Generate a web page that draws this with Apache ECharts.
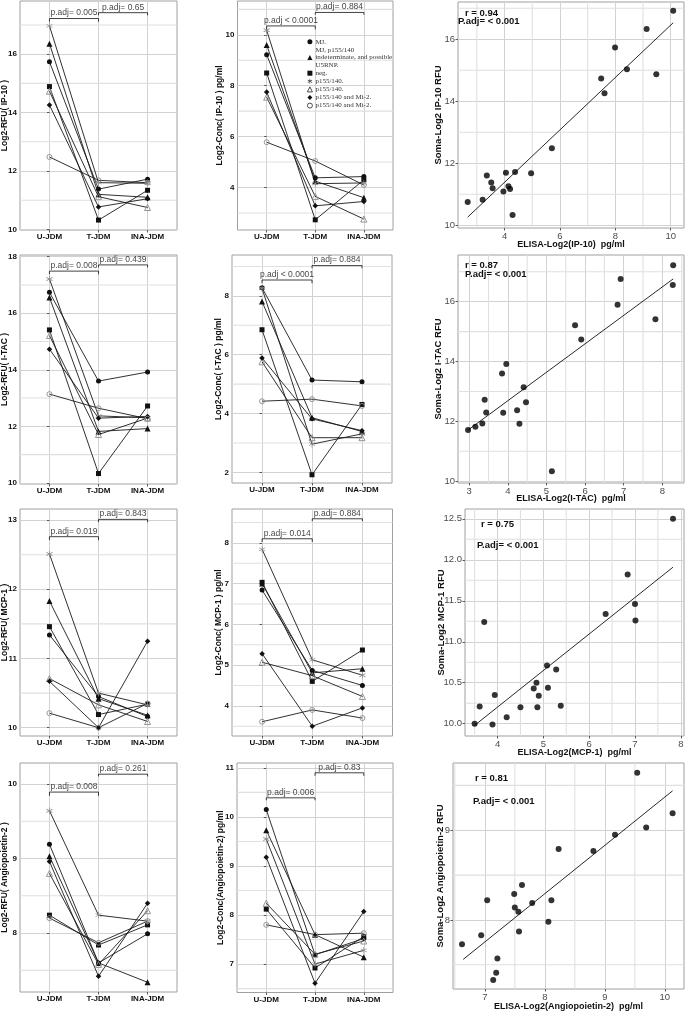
<!DOCTYPE html>
<html>
<head>
<meta charset="utf-8">
<script src="https://cdn.jsdelivr.net/npm/echarts@6.0.0/dist/echarts.min.js"></script>
<style>
html,body{margin:0;padding:0;background:#fff;}
#chart{width:685px;height:1013px;}
</style>
</head>
<body>
<div id="chart"></div>
<script>
// ================= DATA =================
const groups = ['U-JDM', 'T-JDM', 'INA-JDM'];
const subjects = ['MJ.', 'MJ, p155/140\nindeterminate, and possible\nU5RNP.', 'neg.', 'p155/140.', 'p155/140. ', 'p155/140 and Mi-2.', 'p155/140 and Mi-2. '];

// paired values, one row per subject: [U-JDM, T-JDM, INA-JDM]
const ip10RFU  = [[15.74,11.38,11.72],[16.36,11.20,11.10],[14.89,10.32,11.34],[16.97,11.60,11.58],[14.73,11.12,10.75],[14.26,10.77,11.05],[12.48,11.68,11.60]];
const ip10Conc = [[9.22,4.38,4.43],[9.60,4.25,3.60],[8.50,2.73,4.30],[10.18,4.15,4.18],[7.55,3.65,2.76],[7.75,3.28,3.45],[5.78,5.04,4.10]];
const itacRFU  = [[16.74,13.60,13.92],[16.56,11.82,11.92],[15.41,10.33,12.72],[17.21,12.37,12.30],[15.21,11.71,12.29],[14.73,12.29,12.35],[13.14,12.64,12.27]];
const itacConc = [[8.28,5.14,5.08],[7.81,3.86,3.39],[6.85,1.92,4.31],[8.26,2.96,3.31],[5.76,3.18,3.18],[5.89,3.82,3.42],[4.42,4.49,4.26]];
const mcp1RFU  = [[11.34,10.45,10.16],[11.83,10.42,10.18],[11.46,10.19,10.34],[12.51,10.50,10.33],[10.71,10.33,10.09],[10.67,10.00,11.25],[10.21,10.00,10.35]];
const mcp1Conc = [[6.84,4.87,4.50],[7.00,4.81,4.91],[7.03,4.60,5.37],[7.84,5.13,4.75],[5.07,4.74,4.23],[5.28,3.50,3.95],[3.61,3.90,3.70]];
const ang2RFU  = [[9.19,7.60,7.99],[9.03,7.60,7.34],[8.24,7.84,8.11],[9.64,8.24,8.16],[8.80,7.58,8.30],[8.96,7.42,8.40],[8.20,7.87,8.16]];
const ang2Conc = [[10.15,7.19,7.52],[9.73,7.60,7.14],[8.12,6.92,7.56],[9.55,7.00,7.28],[8.24,7.20,7.47],[9.18,6.61,8.07],[7.80,7.60,7.63]];

// p-value labels and bracket heights [bar level, tip level]
const ip10RFU_p  = ['p.adj= 0.005', 'p.adj= 0.65'];     const ip10RFU_br  = [[17.22,17.11],[17.42,17.33]];
const ip10Conc_p = ['p.adj < 0.0001', 'p.adj= 0.884'];  const ip10Conc_br = [[10.35,10.22],[10.88,10.79]];
const itacRFU_p  = ['p.adj= 0.008', 'p.adj= 0.439'];    const itacRFU_br  = [[17.49,17.38],[17.71,17.62]];
const itacConc_p = ['p.adj < 0.0001', 'p.adj= 0.884'];  const itacConc_br = [[8.54,8.43],[9.03,8.94]];
const mcp1RFU_p  = ['p.adj= 0.019', 'p.adj= 0.843'];    const mcp1RFU_br  = [[12.76,12.71],[13.01,12.97]];
const mcp1Conc_p = ['p.adj= 0.014', 'p.adj= 0.884'];    const mcp1Conc_br = [[8.10,8.02],[8.59,8.53]];
const ang2RFU_p  = ['p.adj= 0.008', 'p.adj= 0.261'];    const ang2RFU_br  = [[9.89,9.84],[10.13,10.10]];
const ang2Conc_p = ['p.adj= 0.006', 'p.adj= 0.83'];     const ang2Conc_br = [[10.39,10.34],[10.90,10.84]];

// scatter (ELISA x, Soma y)
const ip10X = [10.09,9.13,7.99,8.42,9.48,7.49,7.61,5.71,4.38,4.96,4.05,3.36,3.52,3.57,4.14,4.20,3.96,3.21,2.67,4.29];
const ip10Y = [16.92,16.33,15.73,15.03,14.87,14.73,14.26,12.48,11.72,11.68,11.69,11.60,11.38,11.19,11.26,11.17,11.09,10.82,10.75,10.33];
const itacX = [8.28,8.27,6.92,6.84,7.82,5.74,5.90,3.96,3.85,4.41,3.40,4.47,4.24,3.44,3.88,4.30,3.34,3.16,2.97,5.14];
const itacY = [17.22,16.56,16.76,15.90,15.41,15.21,14.74,13.92,13.60,13.14,12.72,12.64,12.37,12.30,12.29,11.92,11.93,11.82,11.71,10.33];
const mcp1X = [7.83,6.84,7.00,7.01,6.36,3.71,5.08,5.28,4.85,4.79,5.10,4.90,3.94,3.61,5.38,4.87,4.50,4.20,3.50,3.89];
const mcp1Y = [12.50,11.82,11.46,11.26,11.34,11.24,10.71,10.66,10.50,10.43,10.44,10.34,10.35,10.21,10.22,10.20,10.20,10.08,10.00,9.99];
const ang2X = [9.54,10.13,9.69,9.17,8.23,8.81,7.62,7.49,7.04,7.79,8.11,7.50,7.56,8.06,7.57,6.94,6.62,7.21,7.19,7.14];
const ang2Y = [9.64,9.19,9.03,8.95,8.79,8.77,8.39,8.29,8.22,8.19,8.22,8.14,8.09,7.98,7.87,7.83,7.73,7.57,7.41,7.33];
// fitted line end points
const ip10FitX = [2.67,10.09]; const ip10FitY = [10.26,16.53];
const itacFitX = [2.97,8.28];  const itacFitY = [11.71,16.76];
const mcp1FitX = [3.50,7.83];  const mcp1FitY = [9.98,11.91];
const ang2FitX = [6.64,10.13]; const ang2FitY = [7.56,9.44];
const ip10Stat = ['r = 0.94', 'P.adj= < 0.001'];
const itacStat = ['r = 0.87', 'P.adj= < 0.001'];
const mcp1Stat = ['r = 0.75', 'P.adj= < 0.001'];
const ang2Stat = ['r = 0.81', 'P.adj= < 0.001'];

// tick values
const ip10RFU_t = [10,12,14,16];    const ip10RFU_m = [11,13,15,17];
const ip10Conc_t = [4,6,8,10];      const ip10Conc_m = [3,5,7,9,11];
const itacRFU_t = [10,12,14,16,18]; const itacRFU_m = [11,13,15,17];
const itacConc_t = [2,4,6,8];       const itacConc_m = [3,5,7,9];
const mcp1RFU_t = [10,11,12,13];    const mcp1RFU_m = [10.5,11.5,12.5];
const mcp1Conc_t = [4,5,6,7,8];     const mcp1Conc_m = [3.5,4.5,5.5,6.5,7.5,8.5];
const ang2RFU_t = [8,9,10];         const ang2RFU_m = [7.5,8.5,9.5];
const ang2Conc_t = [7,8,9,10,11];   const ang2Conc_m = [6.5,7.5,8.5,9.5,10.5];
const s1X_t = [4,6,8,10]; const s1X_m = [3,5,7,9]; const s1Y_t = [10,12,14,16]; const s1Y_m = [11,13,15,17];
const s2X_t = [3,4,5,6,7,8]; const s2X_m = [3.5,4.5,5.5,6.5,7.5,8.5]; const s2Y_t = [10,12,14,16]; const s2Y_m = [11,13,15,17];
const s3X_t = [4,5,6,7,8]; const s3X_m = [3.5,4.5,5.5,6.5,7.5]; const s3Y_t = [10,10.5,11,11.5,12,12.5]; const s3Y_m = [10.25,10.75,11.25,11.75,12.25];
const s4X_t = [7,8,9,10]; const s4X_m = [6.5,7.5,8.5,9.5]; const s4Y_t = [8,9]; const s4Y_m = [7.5,8.5,9.5];

// ================= STYLE / LAYOUT =================
const FONT = '"Liberation Sans", Arial, sans-serif';
const SERIF = '"Liberation Serif", "DejaVu Serif", serif';
const MAJOR_C = '#d2d2d2', MINOR_C = '#e0e0e0', BORDER_C = '#a0a0a0', LINE_C = '#1a1a1a';
const ASTER = 'path://M-1,-10L1,-10L1,10L-1,10Z M8.16,5.87L-9.16,-4.13L-8.16,-5.87L9.16,4.13Z M-9.16,4.13L8.16,-5.87L9.16,-4.13L-8.16,5.87Z';
const SYM = ['circle', 'triangle', 'rect', ASTER, 'triangle', 'diamond', 'circle'];
const SYM_SIZE = [5, 6, 5, 6.5, 6, 5.5, 5];
const SYM_FILL = ['#111', '#111', '#111', '#8a8a8a', 'rgba(0,0,0,0)', '#111', 'rgba(0,0,0,0)'];
const SYM_BORDER = ['#111', '#111', '#111', '#8a8a8a', '#8a8a8a', '#111', '#8a8a8a'];
const SYM_BW = [0, 0, 0, 0, 0.9, 0, 0.9];

const grids = [], xAxes = [], yAxes = [], series = [], graphics = [];

function addGrid(l) {
  grids.push({left: l.left, top: l.top, width: l.width, height: l.height, show: true,
    backgroundColor: 'rgba(255,255,255,0)', borderColor: BORDER_C, borderWidth: 1, containLabel: false, outerBoundsMode: 'none'});
  return grids.length - 1;
}
// minor grid lines: one line series per panel, segments separated by gaps
function minorLines(gi, xr, yr, yMin, xMin) {
  const segs = yMin.map(v => [[xr[0], v], [xr[1], v]]).concat(xMin.map(v => [[v, yr[0]], [v, yr[1]]]));
  if (!segs.length) return;
  const pts = [];
  segs.forEach((s, i) => { if (i) pts.push(['-', '-']); pts.push(s[0], s[1]); });
  series.push({type: 'line', xAxisIndex: gi, yAxisIndex: gi, silent: true, z: 1,
    data: pts, connectNulls: false, symbol: 'none', showSymbol: false, clip: false, animation: false,
    lineStyle: {color: MINOR_C, width: 1.1, opacity: 1, cap: 'butt'}, emphasis: {disabled: true}});
}
const majorSplit = {show: true, lineStyle: {color: MAJOR_C, width: 1, type: 'solid'}};

function yAxisCfg(gi, range, ticks, name, gap, o) {
  return {gridIndex: gi, type: 'value', min: range[0], max: range[1], name: name, nameLocation: 'middle',
    nameGap: gap, nameRotate: 90, nameMoveOverlap: false,
    nameTextStyle: {fontFamily: FONT, fontWeight: 'bold', fontSize: o.titleSize, color: '#111'},
    axisLine: {show: false}, splitLine: majorSplit,
    axisTick: {show: true, customValues: ticks, length: 2.5, lineStyle: {color: '#333', width: 0.8}},
    axisLabel: {show: true, customValues: ticks, fontFamily: FONT, fontSize: o.labelSize, fontWeight: o.labelWeight,
      color: o.labelColor, margin: 3, formatter: o.fmt || (v => String(v))}};
}

function paired(l, range, ticks, minors, title, gap, vals, br, pv) {
  const gi = addGrid(l);
  const xr = [-0.6, 2.6];
  xAxes.push({gridIndex: gi, type: 'value', min: xr[0], max: xr[1],
    axisLine: {show: false}, splitLine: majorSplit,
    axisTick: {show: true, customValues: [0, 1, 2], length: 2.5, lineStyle: {color: '#333', width: 0.8}},
    axisLabel: {show: true, customValues: [0, 1, 2], formatter: v => groups[Math.round(v)], fontFamily: FONT,
      fontSize: 8, fontWeight: 'bold', color: '#111', margin: 3}});
  yAxes.push(yAxisCfg(gi, range, ticks, title, gap, {titleSize: 8.5, labelSize: 8, labelWeight: 'bold', labelColor: '#111'}));
  minorLines(gi, xr, range, minors, []);
  vals.forEach((row, si) => {
    series.push({type: 'line', name: subjects[si], xAxisIndex: gi, yAxisIndex: gi, z: 3, silent: true,
      data: row.map((v, k) => [k, v]), symbol: SYM[si], symbolSize: SYM_SIZE[si], showSymbol: true,
      lineStyle: {color: LINE_C, width: 0.9},
      itemStyle: {color: SYM_FILL[si], borderColor: SYM_BORDER[si], borderWidth: SYM_BW[si]},
      emphasis: {disabled: true}});
  });
  br.forEach((b, k) => {
    const x0 = k, x1 = k + 1;
    series.push({type: 'line', xAxisIndex: gi, yAxisIndex: gi, z: 4, silent: true, symbol: 'none',
      data: [[x0, b[1]], [x0, b[0]], [x1, b[0]], [x1, b[1]]], lineStyle: {color: '#111', width: 0.8}});
    series.push({type: 'scatter', xAxisIndex: gi, yAxisIndex: gi, z: 4, silent: true, symbolSize: 0,
      data: [[(x0 + x1) / 2, b[0]]],
      label: {show: true, position: 'top', distance: 1, formatter: pv[k], fontFamily: FONT, fontSize: 8.5, color: '#111'}});
  });
}

function scatterPanel(l, xr, xt, xm, yr, yt, ym, xName, yName, xGap, yGap, xs, ys, fx, fy, stat, statPos, yfmt) {
  const gi = addGrid(l);
  xAxes.push({gridIndex: gi, type: 'value', min: xr[0], max: xr[1], name: xName, nameLocation: 'middle', nameGap: xGap,
    nameTextStyle: {fontFamily: FONT, fontWeight: 'bold', fontSize: 9, color: '#111'}, nameMoveOverlap: false,
    axisLine: {show: false}, splitLine: majorSplit,
    axisTick: {show: true, customValues: xt, length: 2.5, lineStyle: {color: '#333', width: 0.8}},
    axisLabel: {show: true, customValues: xt, fontFamily: FONT, fontSize: 9.5, color: '#4d4d4d', margin: 3, formatter: v => String(v)}});
  yAxes.push(yAxisCfg(gi, yr, yt, yName, yGap, {titleSize: 9.5, labelSize: 9.5, labelWeight: 'normal', labelColor: '#4d4d4d', fmt: yfmt}));
  minorLines(gi, xr, yr, ym, xm);
  series.push({type: 'line', xAxisIndex: gi, yAxisIndex: gi, z: 3, silent: true, symbol: 'none',
    data: [[fx[0], fy[0]], [fx[1], fy[1]]], lineStyle: {color: '#111', width: 0.9}});
  series.push({type: 'scatter', xAxisIndex: gi, yAxisIndex: gi, z: 4, silent: true, symbolSize: 6,
    data: xs.map((x, i) => [x, ys[i]]), itemStyle: {color: '#000'}});
  stat.forEach((t, i) => {
    graphics.push({type: 'text', left: statPos[i][0], top: statPos[i][1] - 5, silent: true, z: 10,
      style: {text: t, font: 'bold 9.5px ' + FONT, fill: '#111'}});
  });
}

const fmt1 = v => v.toFixed(1);

// Row 1
paired({left: 20, top: 1, width: 157, height: 229}, [9.98, 17.82], ip10RFU_t, ip10RFU_m, 'Log2-RFU( IP-10 )', 11, ip10RFU, ip10RFU_br, ip10RFU_p);
paired({left: 237.5, top: 1, width: 155.5, height: 229}, [2.33, 11.33], ip10Conc_t, ip10Conc_m, 'Log2-Conc( IP-10 ) pg/ml', 13, ip10Conc, ip10Conc_br, ip10Conc_p);
scatterPanel({left: 458, top: 2, width: 226, height: 226}, [2.32, 10.48], s1X_t, s1X_m, [9.91, 17.2], s1Y_t, s1Y_m,
  'ELISA-Log2(IP-10)  pg/ml', 'Soma-Log2 IP-10 RFU', 12, 15, ip10X, ip10Y, ip10FitX, ip10FitY, ip10Stat, [[465, 13], [458, 21]]);
// Row 2
paired({left: 20, top: 255, width: 157, height: 229}, [9.96, 18.06], itacRFU_t, itacRFU_m, 'Log2-RFU( I-TAC )', 11, itacRFU, itacRFU_br, itacRFU_p);
paired({left: 232, top: 255, width: 160, height: 228}, [1.64, 9.39], itacConc_t, itacConc_m, 'Log2-Conc( I-TAC ) pg/ml', 9, itacConc, itacConc_br, itacConc_p);
scatterPanel({left: 458, top: 255, width: 226, height: 228}, [2.71, 8.56], s2X_t, s2X_m, [9.94, 17.56], s2Y_t, s2Y_m,
  'ELISA-Log2(I-TAC)  pg/ml', 'Soma-Log2 I-TAC RFU', 11, 15, itacX, itacY, itacFitX, itacFitY, itacStat, [[465, 265], [465, 274]]);
// Row 3
paired({left: 20, top: 509, width: 157, height: 227}, [9.88, 13.16], mcp1RFU_t, mcp1RFU_m, 'Log2-RFU( MCP-1 )', 11, mcp1RFU, mcp1RFU_br, mcp1RFU_p);
paired({left: 232, top: 509, width: 160.5, height: 227}, [3.26, 8.83], mcp1Conc_t, mcp1Conc_m, 'Log2-Conc( MCP-1 ) pg/ml', 9, mcp1Conc, mcp1Conc_br, mcp1Conc_p);
scatterPanel({left: 465, top: 509, width: 219, height: 227}, [3.29, 8.07], s3X_t, s3X_m, [9.85, 12.62], s3Y_t, s3Y_m,
  'ELISA-Log2(MCP-1)  pg/ml', 'Soma-Log2 MCP-1 RFU', 12, 19, mcp1X, mcp1Y, mcp1FitX, mcp1FitY, mcp1Stat, [[481, 524], [477, 545]], fmt1);
// Row 4
paired({left: 20, top: 763, width: 157, height: 229}, [7.21, 10.28], ang2RFU_t, ang2RFU_m, 'Log2-RFU( Angiopoietin-2 )', 11, ang2RFU, ang2RFU_br, ang2RFU_p);
paired({left: 237, top: 763, width: 156, height: 229.5}, [6.42, 11.1], ang2Conc_t, ang2Conc_m, 'Log2-Conc(Angiopoietin-2) pg/ml', 12, ang2Conc, ang2Conc_br, ang2Conc_p);
scatterPanel({left: 453, top: 763, width: 231, height: 226}, [6.47, 10.32], s4X_t, s4X_m, [7.23, 9.75], s4Y_t, s4Y_m,
  'ELISA-Log2(Angiopoietin-2)  pg/ml', 'Soma-Log2 Angiopoietin-2 RFU', 13, 8, ang2X, ang2Y, ang2FitX, ang2FitY, ang2Stat, [[475, 778], [473, 801]]);

// legend entries (inside IP-10 concentration panel)
const LEG_ICON = ['circle', 'triangle', 'rect', ASTER, 'triangle', 'diamond', 'circle'];
const legendData = subjects.map((n, i) => ({
  name: n, icon: LEG_ICON[i],
  itemStyle: (i === 4 || i === 6) ? {color: 'rgba(0,0,0,0)', borderColor: '#222', borderWidth: 0.8} : {color: '#111', borderWidth: 0}
}));

const chart = echarts.init(document.getElementById('chart'), null, {renderer: 'canvas'});
chart.setOption({
  animation: false,
  backgroundColor: '#fff',
  grid: grids,
  xAxis: xAxes,
  yAxis: yAxes,
  series: series,
  graphic: graphics,
  legend: {show: true, data: legendData, orient: 'vertical', left: 307, top: 38, itemWidth: 5, itemHeight: 5,
    itemGap: 0.5, selectedMode: false, padding: 0, z: 6,
    textStyle: {fontFamily: SERIF, fontSize: 7, color: '#333', lineHeight: 7.6, padding: [0, 0, 0, -2]}}
});
</script>
</body>
</html>
